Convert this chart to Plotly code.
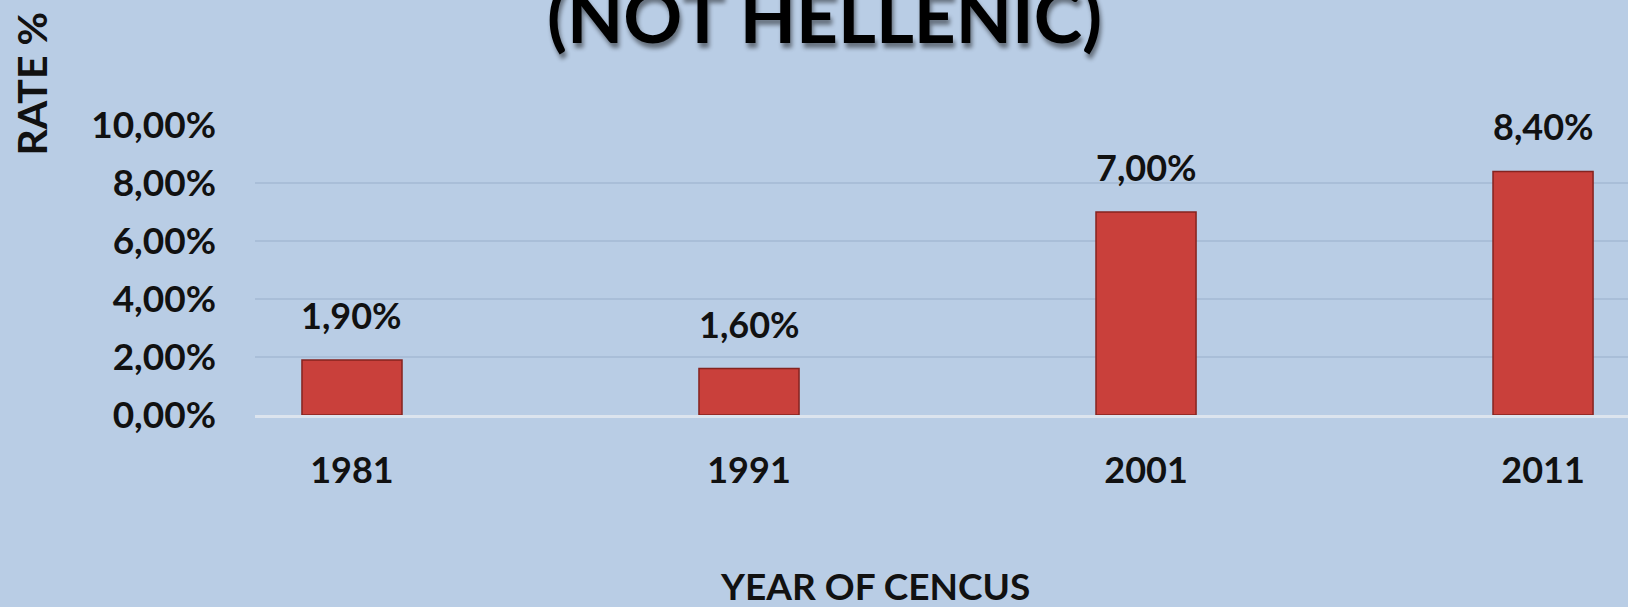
import plotly.graph_objects as go

years = ["1981", "1991", "2001", "2011"]
rates = [1.90, 1.60, 7.00, 8.40]
y_ticks = [0, 2, 4, 6, 8, 10]
y_tick_labels = ["0,00%", "2,00%", "4,00%", "6,00%", "8,00%", "10,00%"]
title_text = "(NOT HELLENIC)"
x_title = "YEAR OF CENCUS"
y_title = "RATE %"

BG = "#B9CDE5"
FONT = "Lato"

def pct(v):
    return f"{v:.2f}%".replace(".", ",")

fig = go.Figure()
fig.add_trace(go.Bar(
    x=years, y=rates, width=0.252,
    marker=dict(color="#C9403B", line=dict(color="#85231F", width=1.5)),
    hoverinfo="skip",
))

annotations = []
for i, v in enumerate(rates):
    annotations.append(dict(
        x=i, y=v, xref="x", yref="y", text=pct(v), showarrow=False,
        xanchor="center", yanchor="middle", yshift=45,
        font=dict(family=FONT, size=36, color="#111111", weight=700),
    ))

annotations.append(dict(
    x=0.415, y=1.22, xref="paper", yref="paper", text=title_text,
    showarrow=False, xanchor="center", yanchor="bottom",
    font=dict(family=FONT, size=73, color="#000000", weight=700,
              shadow="2px 5px 4px rgba(0,0,0,0.45)"),
))
annotations.append(dict(
    x=0.4516, y=-0.588, xref="paper", yref="paper", text=x_title,
    showarrow=False, xanchor="center", yanchor="middle",
    font=dict(family=FONT, size=37, color="#111111", weight=700),
))
annotations.append(dict(
    x=-0.1631, y=1.143, xref="paper", yref="paper", text=y_title,
    showarrow=False, xanchor="center", yanchor="middle", textangle=-90,
    font=dict(family=FONT, size=41, color="#111111", weight=700),
))

fig.update_layout(
    template="none",
    width=1628, height=607,
    margin=dict(l=255, r=0, t=124.5, b=192, pad=0),
    paper_bgcolor=BG, plot_bgcolor=BG,
    showlegend=False,
    annotations=annotations,
    xaxis=dict(
        type="category", range=[-0.2443, 3.214],
        showgrid=False, zeroline=False,
        showline=True, linecolor="#DCE4EE", linewidth=3,
        ticks="", ticklabelstandoff=22, automargin=False,
        tickfont=dict(family=FONT, size=36, color="#111111", weight=700),
    ),
    yaxis=dict(
        range=[0, 10], tickvals=y_ticks, ticktext=y_tick_labels,
        showgrid=False, zeroline=False, showline=False,
        minor=dict(tickvals=[2, 4, 6, 8], showgrid=True,
                   gridcolor="#A9BED8", gridwidth=1.5, ticks=""),
        ticks="", ticklabelstandoff=38, automargin=False,
        tickfont=dict(family=FONT, size=37, color="#111111", weight=700),
    ),
)

fig.write_html(
    "out.html",
    config={"displayModeBar": False},
    post_script="document.body.style.margin='0';document.body.style.overflow='hidden';",
)
